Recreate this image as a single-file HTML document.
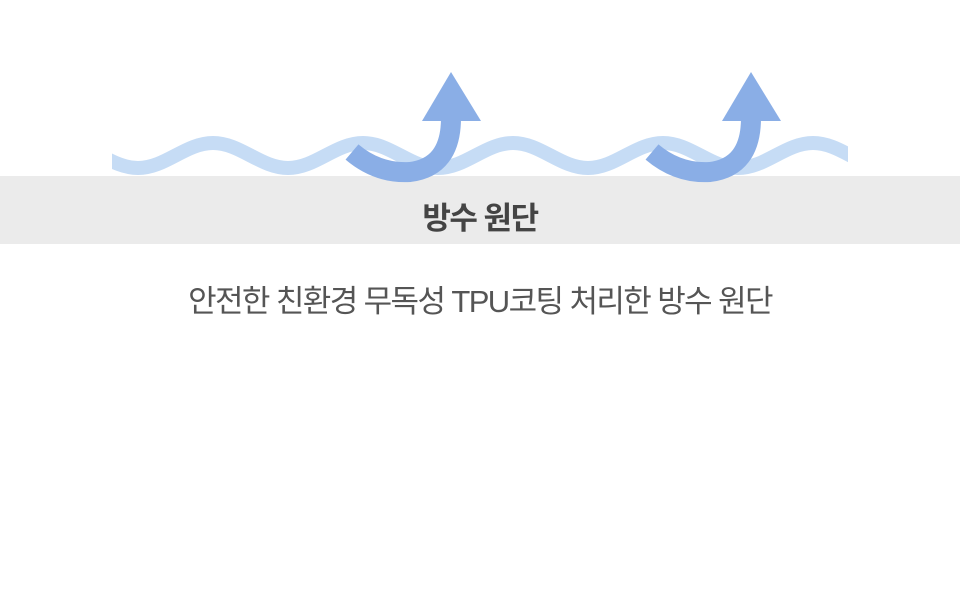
<!DOCTYPE html>
<html><head><meta charset="utf-8"><style>
body{margin:0;width:960px;height:606px;background:#fff;overflow:hidden;position:relative;font-family:"Liberation Sans","Noto Sans CJK KR",sans-serif}
.band{position:absolute;left:0;top:176px;width:960px;height:68px;background:#ebebeb}
.t{position:absolute;left:0;width:960px;text-align:center;white-space:nowrap}
</style></head><body>
<div class="band"></div>
<svg width="960" height="606" style="position:absolute;left:0;top:0">
<defs><clipPath id="c2"><rect x="112" y="0" width="736" height="606"/></clipPath></defs>
<path clip-path="url(#c2)" fill="none" stroke="#c6dcf5" stroke-width="14" d="M63 143 C90.5 143 110.5 168 138 168 C165.5 168 185.5 143 213 143 C240.5 143 260.5 168 288 168 C315.5 168 335.5 143 363 143 C390.5 143 410.5 168 438 168 C465.5 168 485.5 143 513 143 C540.5 143 560.5 168 588 168 C615.5 168 635.5 143 663 143 C690.5 143 710.5 168 738 168 C765.5 168 785.5 143 813 143 C840.5 143 860.5 168 888 168"/>
<g fill="none" stroke="#8aaee6" stroke-width="20">
<path d="M352 152 Q378 174 410 172 Q451 167 451 118"/>
<path d="M652 152 Q678 174 710 172 Q751 167 751 118"/>
</g>
<g fill="#8aaee6">
<polygon points="422,121 481,121 451,72"/>
<polygon points="722,121 781,121 751,72"/>
</g>
</svg>
<div class="t" style="top:193px;font-size:31px;font-weight:bold;color:#444;letter-spacing:-1.5px">방수 원단</div>
<div class="t" style="top:276px;font-size:31px;color:#555;letter-spacing:-1.6px">안전한 친환경 무독성 TPU코팅 처리한 방수 원단</div>
</body></html>
